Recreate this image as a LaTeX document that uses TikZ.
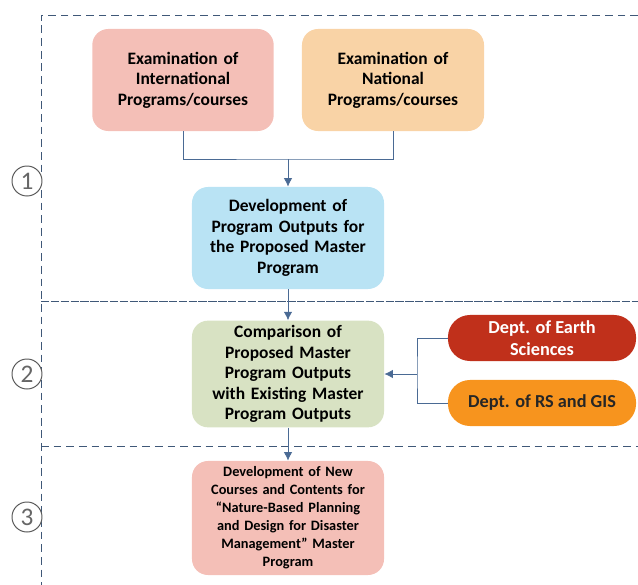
\documentclass[tikz,border=0pt]{standalone}
\usepackage{fontspec}
\setmainfont{Carlito}
\usetikzlibrary{positioning,arrows.meta}

\definecolor{linkblue}{HTML}{4A6A94}
\definecolor{framegray}{HTML}{3F5878}
\definecolor{intpink}{HTML}{F4BFB7}
\definecolor{natorange}{HTML}{F9D3A6}
\definecolor{devblue}{HTML}{B9E3F4}
\definecolor{cmpgreen}{HTML}{D8E2C3}
\definecolor{earthred}{HTML}{C0301B}
\definecolor{gisorange}{HTML}{F7941E}

\begin{document}
\begin{tikzpicture}[
                        x = 0.025cm,
                        y = -0.025cm,
                        >= {Latex[length=6pt,width=6pt]},
                        semithick
                        ]

                        \tikzstyle{step box}=[
                                rounded corners = 0.4cm,
                                align = center,
                                text width = 4.3cm,
                                minimum width = 4.8cm,
                                minimum height = 2.55cm,
                                font = \bfseries\fontsize{12.4}{14.6}\selectfont
                        ]
                        \tikzstyle{dept}=[
                                rounded corners = 0.55cm,
                                align = center,
                                minimum width = 4.7cm,
                                minimum height = 1.15cm,
                                font = \bfseries\fontsize{13}{15.4}\selectfont
                        ]
                        \tikzstyle{phase}=[
                                draw = black!65,
                                circle,
                                line width = 0.7pt,
                                fill = white,
                                minimum size = 0.75cm,
                                inner sep = 0pt,
                                text = black!60,
                                font = \fontsize{18}{18}\selectfont
                        ]
                        \tikzstyle{link}=[draw = linkblue, line width = 0.55pt]
                        \tikzstyle{frame}=[draw = framegray, line width = 0.7pt, dash pattern = on 5.5pt off 3.5pt]

                        \useasboundingbox (0,0) rectangle (638,585);

                        % phase borders
                        \draw[frame] (638,15) -- (41,15) -- (41,585);
                        \draw[frame, dash pattern = on 6pt off 1pt] (41,301) -- (638,301);
                        \draw[frame] (41,446) -- (638,446);

                        \node[phase] (p1) at (27,181) {1};
                        \node[phase] (p2) at (27,374) {2};
                        \node[phase] (p3) at (27,517) {3};

                        % boxes
                        \node[step box, fill = intpink, minimum width = 4.5cm] (1) at (183,80)
                                {Examination of\\International\\Programs/courses};
                        \node[step box, fill = natorange, minimum width = 4.55cm] (2) at (393,80)
                                {Examination of\\National\\Programs/courses};
                        \node[step box, fill = devblue] (3) at (288,238)
                                {Development of\\Program Outputs for\\the Proposed Master\\Program};
                        \node[step box, fill = cmpgreen] (4) at (288,374)
                                {Comparison of\\Proposed Master\\Program Outputs\\with Existing Master\\Program Outputs};
                        \node[step box, fill = intpink, minimum height = 2.85cm,
                              font = \bfseries\fontsize{10.2}{12.8}\selectfont] (5) at (288,518)
                                {Development of New\\Courses and Contents for\\``Nature-Based Planning\\and Design for Disaster\\Management'' Master\\Program};
                        \node[dept, fill = earthred, text = white] (6) at (542,338)
                                {Dept. of Earth\\Sciences};
                        \node[dept, fill = gisorange, text = black!85] (7) at (542,403)
                                {Dept. of RS and GIS};

                        \coordinate (j1) at (288,159);
                        \coordinate (j2) at (417,374);

                        % connectors
                        \draw[link] (1.south) |- (j1) -| (2.south);
                        \draw[link, ->] (j1) -- (3.north);
                        \draw[link, ->] (3.south) -- (4.north);
                        \draw[link, ->] (4.south) -- (5.north);
                        \draw[link] (6.west) -| (j2) |- (7.west);
                        \draw[link, ->] (j2) -- (4.east);
                \end{tikzpicture}
\end{document}
